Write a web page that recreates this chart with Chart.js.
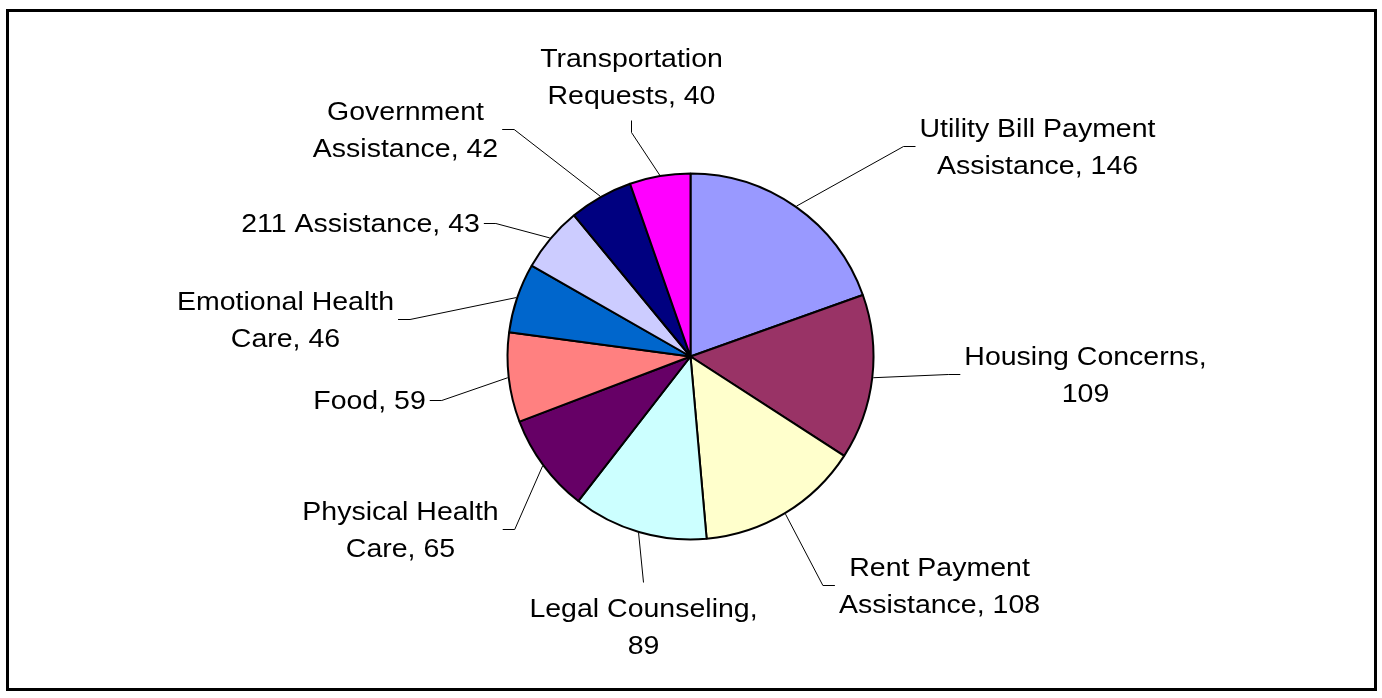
<!DOCTYPE html>
<html>
<head>
<meta charset="utf-8">
<script src="https://cdn.jsdelivr.net/npm/chart.js@4.4.1/dist/chart.umd.min.js"></script>
<style>
  body { margin: 0; background: #fff; overflow: hidden; }
  #frame { position: absolute; left: 6px; top: 9px; width: 1365px; height: 676px; border: 3px solid #000; }
  canvas { display: block; }
</style>
</head>
<body>
<div id="frame"><canvas id="pieChart" width="1365" height="676"></canvas></div>
<script>
// data
const categories = ['Utility Bill Payment Assistance', 'Housing Concerns', 'Rent Payment Assistance',
  'Legal Counseling', 'Physical Health Care', 'Food', 'Emotional Health Care', '211 Assistance',
  'Government Assistance', 'Transportation Requests'];
const requests = [146, 109, 108, 89, 65, 59, 46, 43, 42, 40];

// styles
const sliceColors = ['#9999FF', '#993366', '#FFFFCC', '#CCFFFF', '#660066',
  '#FF8080', '#0066CC', '#CCCCFF', '#000080', '#FF00FF'];

// where each label block sits, relative to the pie centre
const labelOffsets = [[347, -210], [395, 18], [249, 229], [-47, 270], [-290, 173],
  [-321, 44], [-405, -37], [-330, -133], [-285, -227], [-59, -280]];

const fontSize = 25, stretch = 1.14, lineGap = 37, wrapWidth = 256;

function wrapText(ctx, text) {
  const words = text.split(' ');
  const lines = [];
  let cur = '';
  words.forEach(w => {
    const test = cur ? cur + ' ' + w : w;
    if (cur && ctx.measureText(test).width * stretch > wrapWidth) {
      lines.push(cur);
      cur = w;
    } else {
      cur = test;
    }
  });
  lines.push(cur);
  return lines;
}

const leaderLabels = {
  id: 'leaderLabels',
  afterDatasetsDraw(chart) {
    const ctx = chart.ctx;
    const meta = chart.getDatasetMeta(0);
    ctx.save();
    ctx.font = fontSize + 'px "Liberation Sans", Arial, sans-serif';
    meta.data.forEach((arc, i) => {
      const p = arc.getProps(['x', 'y', 'startAngle', 'endAngle', 'outerRadius'], true);
      const mid = (p.startAngle + p.endAngle) / 2;
      const sx = p.x + Math.cos(mid) * (p.outerRadius + 1);
      const sy = p.y + Math.sin(mid) * (p.outerRadius + 1);
      const cx = p.x + labelOffsets[i][0];
      const cy = p.y + labelOffsets[i][1];
      const lines = wrapText(ctx, categories[i] + ', ' + requests[i]);
      const w = Math.max(...lines.map(l => ctx.measureText(l).width)) * stretch;
      const h = lines.length * lineGap;
      const dx = labelOffsets[i][0], dy = labelOffsets[i][1];
      let ex, ey, bx, by;
      if (Math.abs(dx) < Math.abs(dy) * 0.5) {
        if (dy < 0) { ex = cx; ey = cy + h / 2 + 7; bx = cx; by = ey + 12; }
        else { ex = cx; ey = cy - h / 2 - 7; bx = ex; by = ey; }
      } else if (dx > 0) {
        ex = cx - w / 2 - 4; ey = cy; bx = ex - 12; by = cy;
      } else {
        ex = cx + w / 2 + 4; ey = cy; bx = ex + 12; by = cy;
      }
      ctx.strokeStyle = '#000';
      ctx.lineWidth = 1;
      ctx.beginPath();
      ctx.moveTo(sx, sy);
      ctx.lineTo(bx, by);
      ctx.lineTo(ex, ey);
      ctx.stroke();

      ctx.fillStyle = '#000';
      ctx.textAlign = 'center';
      ctx.textBaseline = 'alphabetic';
      lines.forEach((line, k) => {
        const capMid = cy - (lines.length - 1) * lineGap / 2 + k * lineGap;
        ctx.save();
        ctx.translate(cx, capMid + fontSize * 0.716 / 2);
        ctx.scale(stretch, 1);
        ctx.fillText(line, 0, 0);
        ctx.restore();
      });
    });
    ctx.restore();
  }
};

new Chart(document.getElementById('pieChart').getContext('2d'), {
  type: 'pie',
  data: {
    labels: categories,
    datasets: [{
      data: requests,
      backgroundColor: sliceColors,
      borderColor: '#000',
      borderWidth: 2,
      radius: 183
    }]
  },
  options: {
    responsive: false,
    animation: false,
    layout: { padding: { top: 13, right: 2 } },
    plugins: {
      legend: { display: false },
      tooltip: { enabled: false }
    }
  },
  plugins: [leaderLabels]
});
</script>
</body>
</html>
